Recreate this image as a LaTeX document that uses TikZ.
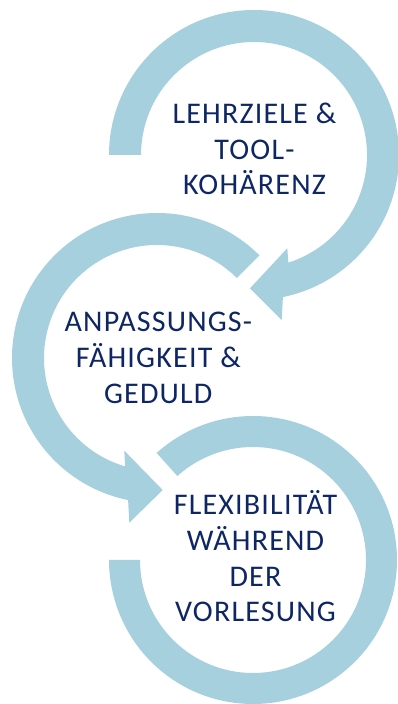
\documentclass[tikz,border=0pt]{standalone}
\usepackage{fontspec}
\setmainfont{Carlito}[LetterSpace=4]
\definecolor{ringblue}{RGB}{166,208,222}
\definecolor{textnavy}{RGB}{14,38,100}
\begin{document}
\begin{tikzpicture}[x=1pt,y=1pt,
  ring/.style={fill=ringblue,draw=none},
  lbl/.style={anchor=base,inner sep=0pt,text=textnavy,
    font=\fontsize{30}{36}\selectfont}]
\useasboundingbox (0,0) rectangle (398,704);

% ring centres
\coordinate (c1) at (254,549);
\coordinate (c2) at (157,346);
\coordinate (c3) at (253,144);

% first ring: clockwise from the left, arrowhead pointing down-left
\fill[ring] ([shift={(180:145)}]c1)
  arc[start angle=180, end angle=-78.5, radius=145]
  -- (281.7,384) -- (250,415.7) -- (287.3,455.7)
  -- ([shift={(-72.3:113)}]c1)
  arc[start angle=-72.3, end angle=180, radius=113] -- cycle;

% second ring: counter-clockwise from upper right, arrowhead pointing right
\fill[ring] ([shift={(45:145)}]c2)
  arc[start angle=45, end angle=258.5, radius=145]
  -- (129.3,181.3) -- (162.7,214) -- (124.3,253.3)
  -- ([shift={(253.6:113)}]c2)
  arc[start angle=253.6, end angle=45, radius=113] -- cycle;

% third ring: open circle without arrowhead
\fill[ring] ([shift={(132:144)}]c3)
  arc[start angle=132, end angle=-180, radius=144]
  -- ([shift={(-180:113)}]c3)
  arc[start angle=-180, end angle=132, radius=113] -- cycle;

% labels
\node[lbl] (t1a) at (254.5,580.7) {LEHRZIELE \&};
\node[lbl] (t1b) at (254.5,544.7) {TOOL-};
\node[lbl] (t1c) at (254.5,509) {KOHÄRENZ};

\node[lbl] (t2a) at (158.3,372.5) {ANPASSUNGS-};
\node[lbl] (t2b) at (158.3,336.3) {FÄHIGKEIT \&};
\node[lbl] (t2c) at (158.3,300.7) {GEDULD};

\node[lbl] (t3a) at (255.5,189.7) {FLEXIBILITÄT};
\node[lbl] (t3b) at (255.5,153.3) {WÄHREND};
\node[lbl] (t3c) at (255.5,117.3) {DER};
\node[lbl] (t3d) at (255.5,82.3) {VORLESUNG};
\end{tikzpicture}
\end{document}
